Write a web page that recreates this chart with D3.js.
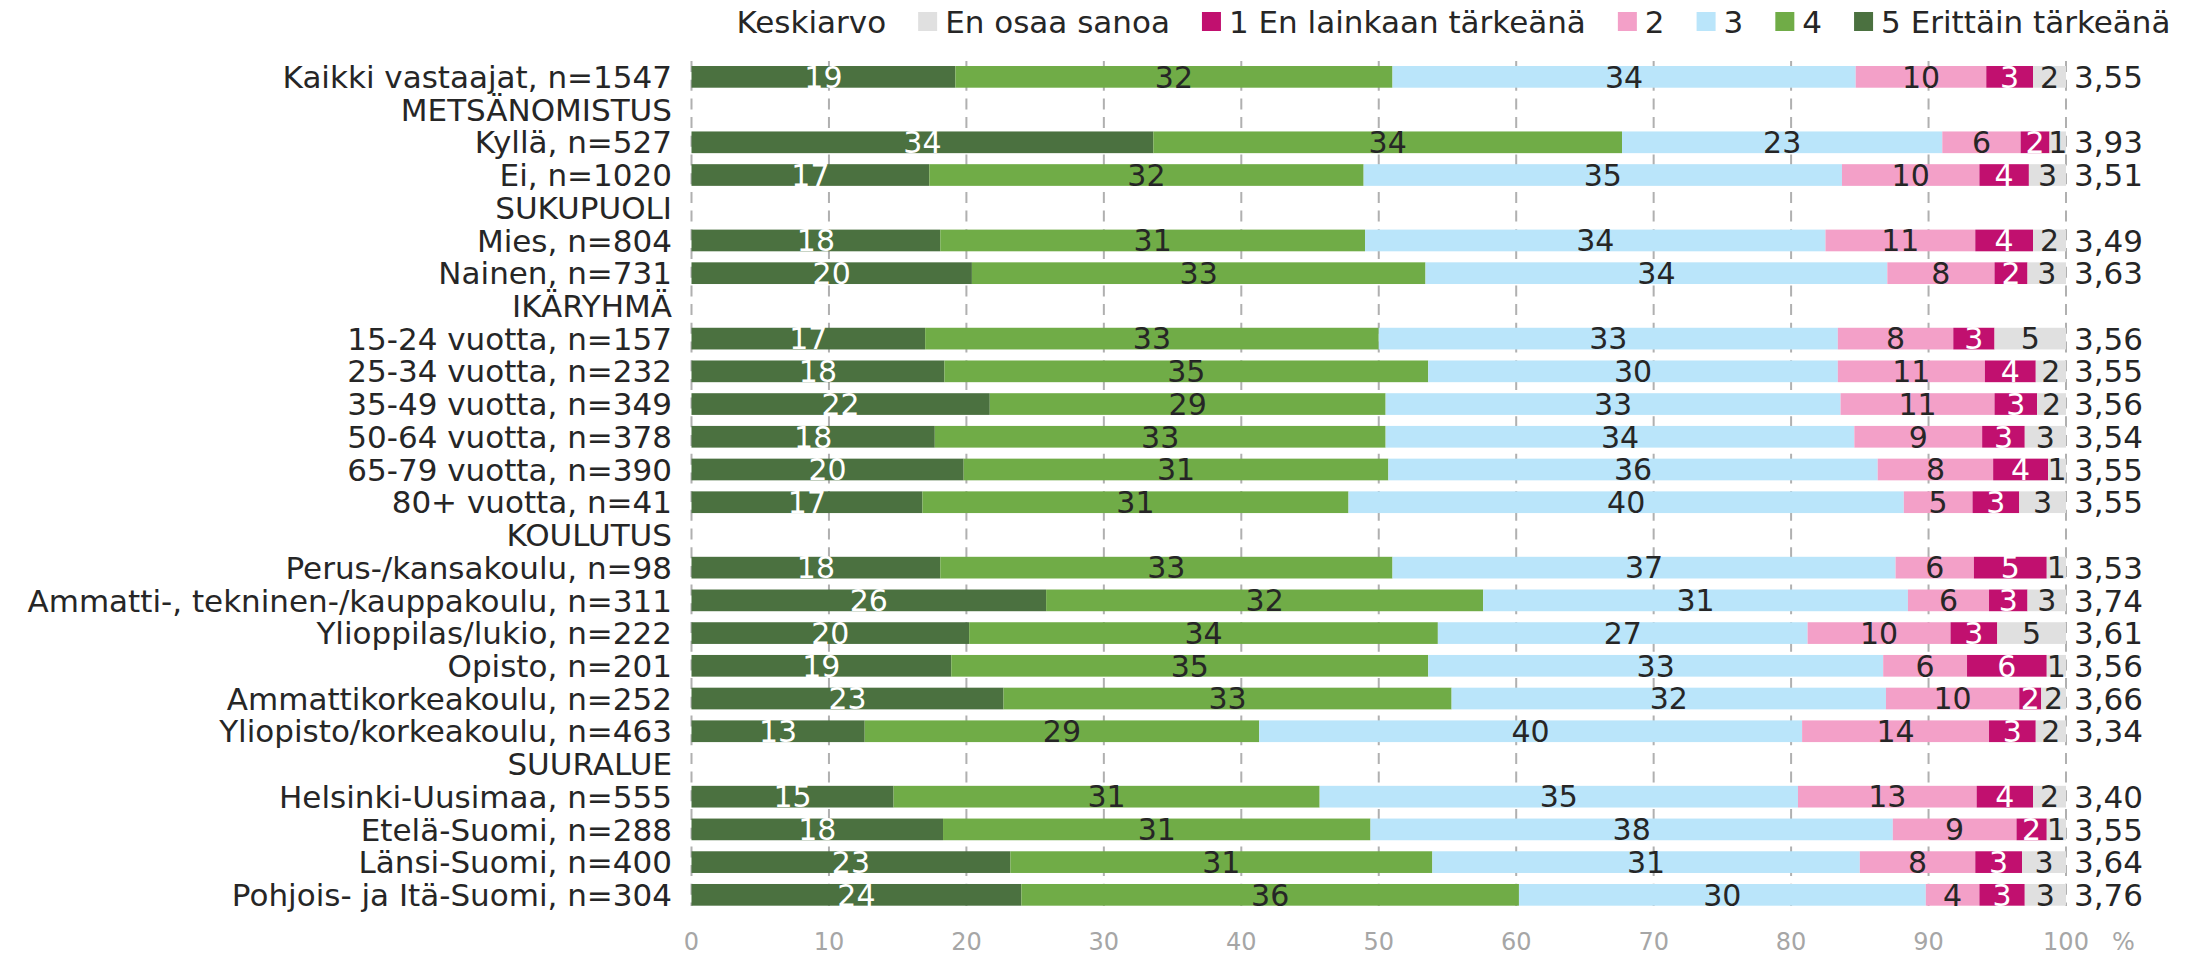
<!DOCTYPE html>
<html>
<head>
<meta charset="utf-8">
<script src="https://cdn.jsdelivr.net/npm/d3@7"></script>
<style>
  html, body { margin: 0; padding: 0; background: #ffffff; }
  svg text { font-family: "DejaVu Sans", sans-serif; }
</style>
</head>
<body>
<svg id="chart" width="2208" height="958"></svg>
<script>
// ---------- DATA ----------
const categories = [
  "Kaikki vastaajat, n=1547", "METSÄNOMISTUS", "Kyllä, n=527", "Ei, n=1020",
  "SUKUPUOLI", "Mies, n=804", "Nainen, n=731", "IKÄRYHMÄ",
  "15-24 vuotta, n=157", "25-34 vuotta, n=232", "35-49 vuotta, n=349",
  "50-64 vuotta, n=378", "65-79 vuotta, n=390", "80+ vuotta, n=41",
  "KOULUTUS", "Perus-/kansakoulu, n=98", "Ammatti-, tekninen-/kauppakoulu, n=311",
  "Ylioppilas/lukio, n=222", "Opisto, n=201", "Ammattikorkeakoulu, n=252",
  "Yliopisto/korkeakoulu, n=463", "SUURALUE", "Helsinki-Uusimaa, n=555",
  "Etelä-Suomi, n=288", "Länsi-Suomi, n=400", "Pohjois- ja Itä-Suomi, n=304"
];
const s5  = [19.2, null, 33.6, 17.3, null, 18.1, 20.4, null, 17.0, 18.4, 21.7, 17.7, 19.8, 16.8, null, 18.1, 25.8, 20.2, 18.9, 22.7, 12.6, null, 14.7, 18.3, 23.2, 24.0];
const s4  = [31.8, null, 34.1, 31.6, null, 30.9, 33.0, null, 33.0, 35.2, 28.8, 32.8, 30.9, 31.0, null, 32.9, 31.8, 34.1, 34.7, 32.6, 28.7, null, 31.0, 31.1, 30.7, 36.2];
const s3  = [33.7, null, 23.3, 34.8, null, 33.5, 33.6, null, 33.4, 29.8, 33.1, 34.1, 35.6, 40.4, null, 36.6, 30.9, 26.9, 33.1, 31.6, 39.5, null, 34.8, 38.0, 31.1, 29.6];
const s2  = [9.5, null, 5.7, 10.0, null, 10.9, 7.8, null, 8.4, 10.7, 11.2, 9.3, 8.4, 5.0, null, 5.7, 5.9, 10.4, 6.1, 9.7, 13.6, null, 13.0, 9.0, 8.4, 3.9];
const s1  = [3.4, null, 2.1, 3.6, null, 4.2, 2.4, null, 3.0, 3.7, 3.1, 3.1, 4.0, 3.4, null, 5.3, 2.8, 3.4, 5.8, 1.6, 3.4, null, 4.1, 2.2, 3.4, 3.3];
const eos = [2.4, null, 1.2, 2.7, null, 2.4, 2.8, null, 5.2, 2.2, 2.1, 3.0, 1.3, 3.4, null, 1.4, 2.8, 5.0, 1.4, 1.8, 2.2, null, 2.4, 1.4, 3.2, 3.0];
const means = [3.55, null, 3.93, 3.51, null, 3.49, 3.63, null, 3.56, 3.55, 3.56, 3.54, 3.55, 3.55, null, 3.53, 3.74, 3.61, 3.56, 3.66, 3.34, null, 3.40, 3.55, 3.64, 3.76];

const seriesNames = ["5 Erittäin tärkeänä", "4", "3", "2", "1 En lainkaan tärkeänä", "En osaa sanoa"];
const seriesValues = [s5, s4, s3, s2, s1, eos];
const seriesColors = ["#4b7140", "#70ac47", "#bae5fa", "#f3a0c8", "#c1106f", "#e0e0e0"];
const labelColors  = ["#ffffff", "#262626", "#262626", "#262626", "#ffffff", "#262626"];
const legendOrder = ["Keskiarvo", "En osaa sanoa", "1 En lainkaan tärkeänä", "2", "3", "4", "5 Erittäin tärkeänä"];
const xTicks = [0, 10, 20, 30, 40, 50, 60, 70, 80, 90, 100];

// ---------- SCALES ----------
const svg = d3.select("#chart");
const x = d3.scaleLinear().domain([0, 100]).range([691.5, 2066]);
const y = d3.scaleBand().domain(categories).range([60.5, 911.2])
  .paddingInner(0.337).paddingOuter(0.1685);
const textColor = "#262626";

// grid lines
svg.append("g").selectAll("line").data(xTicks).join("line")
  .attr("x1", d => x(d)).attr("x2", d => x(d))
  .attr("y1", 61).attr("y2", 906)
  .attr("stroke", "#b0b0b0").attr("stroke-width", 2)
  .attr("stroke-dasharray", "11,7.7");

// stacked segments
const rows = categories.map((c, i) => {
  let acc = 0;
  const segs = [];
  if (s5[i] === null) return { c, segs };
  seriesValues.forEach((arr, k) => {
    segs.push({ k, x0: acc, x1: acc + arr[i], v: arr[i] });
    acc += arr[i];
  });
  return { c, segs };
});

const gBars = svg.append("g");
rows.forEach(r => {
  const g = gBars.append("g");
  g.selectAll("rect").data(r.segs).join("rect")
    .attr("x", d => x(d.x0)).attr("width", d => x(d.x1) - x(d.x0))
    .attr("y", y(r.c)).attr("height", y.bandwidth())
    .attr("fill", d => seriesColors[d.k]);
  g.selectAll("text").data(r.segs).join("text")
    .attr("x", d => (x(d.x0) + x(d.x1)) / 2)
    .attr("y", y(r.c) + y.bandwidth() / 2)
    .attr("dy", "0.36em")
    .attr("text-anchor", "middle")
    .attr("font-size", 30)
    .attr("fill", d => labelColors[d.k])
    .text(d => Math.round(d.v));
});

// category labels
svg.append("g").selectAll("text").data(categories).join("text")
  .attr("x", 672).attr("y", d => y(d) + y.bandwidth() / 2)
  .attr("dy", "0.36em").attr("text-anchor", "end")
  .attr("font-size", 31).attr("fill", textColor)
  .text(d => d);

// mean values
const fmt = d3.formatLocale({ decimal: ",", thousands: " ", grouping: [3], currency: ["", "€"] }).format(".2f");
svg.append("g").selectAll("text").data(categories.map((c, i) => ({ c, m: means[i] })).filter(d => d.m !== null)).join("text")
  .attr("x", 2074).attr("y", d => y(d.c) + y.bandwidth() / 2)
  .attr("dy", "0.36em").attr("text-anchor", "start")
  .attr("font-size", 31).attr("fill", textColor)
  .text(d => fmt(d.m));

// x axis tick labels
svg.append("g").selectAll("text").data(xTicks).join("text")
  .attr("x", d => x(d)).attr("y", 941).attr("dy", "0.36em")
  .attr("text-anchor", "middle").attr("font-size", 24).attr("fill", "#a6a6a6")
  .text(d => d);
svg.append("text").attr("x", 2112).attr("y", 941).attr("dy", "0.36em")
  .attr("font-size", 24).attr("fill", "#a6a6a6").text("%");

// legend
const legend = svg.append("g");
let lx = 736.5;
legendOrder.forEach((name, i) => {
  const k = seriesNames.indexOf(name);
  if (k >= 0) {
    legend.append("rect").attr("x", lx).attr("y", 12).attr("width", 19).attr("height", 19)
      .attr("fill", seriesColors[k]);
    lx += 19 + 8;
  }
  const t = legend.append("text").attr("x", lx).attr("y", 22).attr("dy", "0.36em")
    .attr("font-size", 31).attr("fill", textColor).text(name);
  lx += t.node().getComputedTextLength() + 32;
});
</script>
</body>
</html>
